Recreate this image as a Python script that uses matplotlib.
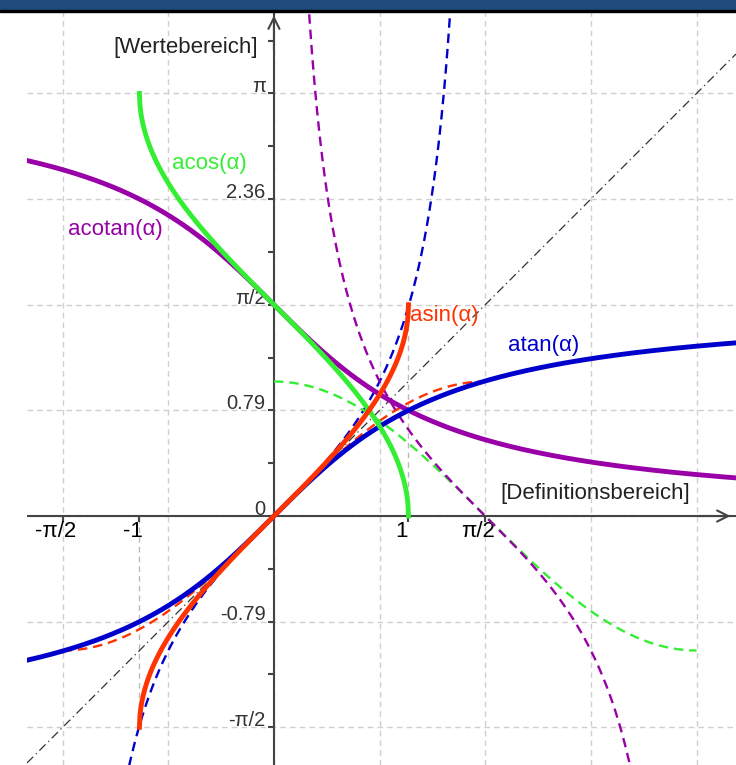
import numpy as np
import matplotlib.pyplot as plt
from matplotlib.patches import Rectangle

plt.rcParams['font.family'] = ['Liberation Sans', 'DejaVu Sans']

# visible window (data units)
x_range = [-1.836, 3.435]
y_range = [-1.851, 3.747]

# domains of the drawn functions
inv_domain = [-1, 1]                 # asin, acos
sin_domain = [-np.pi / 2, np.pi / 2]
cos_domain = [0, np.pi]
tan_domain = [-1.2, 1.35]
cot_domain = [0.24, 2.72]

# axis labels
y_tick_vals = [np.pi, 3 * np.pi / 4, np.pi / 2, np.pi / 4, 0, -np.pi / 4, -np.pi / 2]
y_tick_labels = ['π', '2.36', 'π/2', '0.79', '0', '-0.79', '-π/2']
x_tick_vals = [-np.pi / 2, -1, 1, np.pi / 2]
x_tick_labels = ['-π/2', '-1', '1', 'π/2']

# colours
c_blue = '#0000cc'
c_purple = '#9900a8'
c_green = '#33ee33'
c_red = '#ff3300'
c_axis = '#444444'
c_grid = '#cfcfcf'

fig = plt.figure(figsize=(7.36, 7.65), dpi=100)
ax = fig.add_axes([27 / 736, 0, 709 / 736, 753 / 765])
ax.set_xlim(x_range)
ax.set_ylim(y_range)
ax.set_aspect('equal')
for s in ax.spines.values():
    s.set_visible(False)

# grid every pi/4
grid = np.arange(-2, 5) * np.pi / 4
for g in grid:
    ax.axvline(g, color=c_grid, lw=1, dashes=(4, 3), zorder=0)
    ax.axhline(g, color=c_grid, lw=1, dashes=(4, 3), zorder=0)
ax.set_xticks([])
ax.set_yticks([])

# helper lines at x = +-1
ax.plot([1, 1], [0, np.pi / 2], color='#bbbbbb', lw=1, dashes=(4, 3), zorder=1)
ax.plot([-1, -1], [-np.pi / 2, 0], color='#bbbbbb', lw=1, dashes=(4, 3), zorder=1)

# axes with arrows
ax.axhline(0, color=c_axis, lw=1.5, zorder=2)
ax.axvline(0, color=c_axis, lw=1.5, zorder=2)
ax.annotate('', xy=(0, y_range[1] - 0.005), xytext=(0, y_range[1] - 0.3),
            arrowprops=dict(arrowstyle='->', color=c_axis, lw=1.5, mutation_scale=20))
ax.annotate('', xy=(x_range[1] - 0.02, 0), xytext=(x_range[1] - 0.3, 0),
            arrowprops=dict(arrowstyle='->', color=c_axis, lw=1.5, mutation_scale=20))

# small ticks
y_minor = np.arange(-4, 10) * np.pi / 8
ax.plot(np.zeros(len(y_minor)), y_minor, ls='none', marker=0, ms=4, mew=1.5, color=c_axis, zorder=2)
ax.plot(x_tick_vals, np.zeros(len(x_tick_vals)), ls='none', marker=3, ms=4, mew=1.5, color=c_axis, zorder=2)

# tick labels
for v, t in zip(y_tick_vals, y_tick_labels):
    ax.annotate(t, (0, v), xytext=(-6, -2), textcoords='offset points',
                ha='right', va='bottom', fontsize=14.5, color='#333333')
for v, t in zip(x_tick_vals, x_tick_labels):
    ax.annotate(t, (v, 0), xytext=(-5, -3.5), textcoords='offset points',
                ha='center', va='top', fontsize=16, color='black')

# identity line
xi = np.linspace(x_range[0], x_range[1], 50)
ax.plot(xi, xi, color='#333333', lw=0.9, dashes=(7, 3, 1, 3), zorder=3)

# original functions (dashed)
dash = (4, 2.5)
x = np.linspace(tan_domain[0], tan_domain[1], 400)
ax.plot(x, np.tan(x), color=c_blue, lw=1.7, dashes=dash, zorder=3)
x = np.linspace(sin_domain[0], sin_domain[1], 300)
ax.plot(x, np.sin(x), color=c_red, lw=1.7, dashes=dash, zorder=3)
x = np.linspace(cos_domain[0], cos_domain[1], 300)
ax.plot(x, np.cos(x), color=c_green, lw=1.7, dashes=dash, zorder=3)
x = np.linspace(cot_domain[0], cot_domain[1], 400)
ax.plot(x, 1 / np.tan(x), color=c_purple, lw=1.7, dashes=dash, zorder=3)

# inverse functions (solid)
x = np.linspace(x_range[0], x_range[1], 400)
ax.plot(x, np.pi / 2 - np.arctan(x), color=c_purple, lw=3.5, zorder=4)
ax.plot(x, np.arctan(x), color=c_blue, lw=3.5, zorder=5)
x = np.linspace(inv_domain[0], inv_domain[1], 600)
ax.plot(x, np.arccos(x), color=c_green, lw=3.5, zorder=6)
ax.plot(x, np.arcsin(x), color=c_red, lw=3.5, zorder=7)

# curve labels
ax.text(-0.76, 2.62, 'acos(α)', color=c_green, fontsize=16, va='center', ha='left')
ax.text(-1.53, 2.13, 'acotan(α)', color=c_purple, fontsize=16, va='center', ha='left')
ax.text(1.01, 1.49, 'asin(α)', color=c_red, fontsize=16, va='center', ha='left')
ax.text(1.74, 1.27, 'atan(α)', color=c_blue, fontsize=16, va='center', ha='left')
ax.text(-0.12, 3.48, '[Wertebereich]', color='#222222', fontsize=16, va='center', ha='right')
ax.text(1.68, 0.165, '[Definitionsbereich]', color='#222222', fontsize=16, va='center', ha='left')

# title bar at the top
fig.patches.append(Rectangle((0, 755 / 765), 1, 10 / 765, transform=fig.transFigure,
                             color='#1f4a7c', zorder=10))
fig.patches.append(Rectangle((0, 753 / 765), 1, 2 / 765, transform=fig.transFigure,
                             color='black', zorder=10))

fig.savefig('out.png', dpi=100)
